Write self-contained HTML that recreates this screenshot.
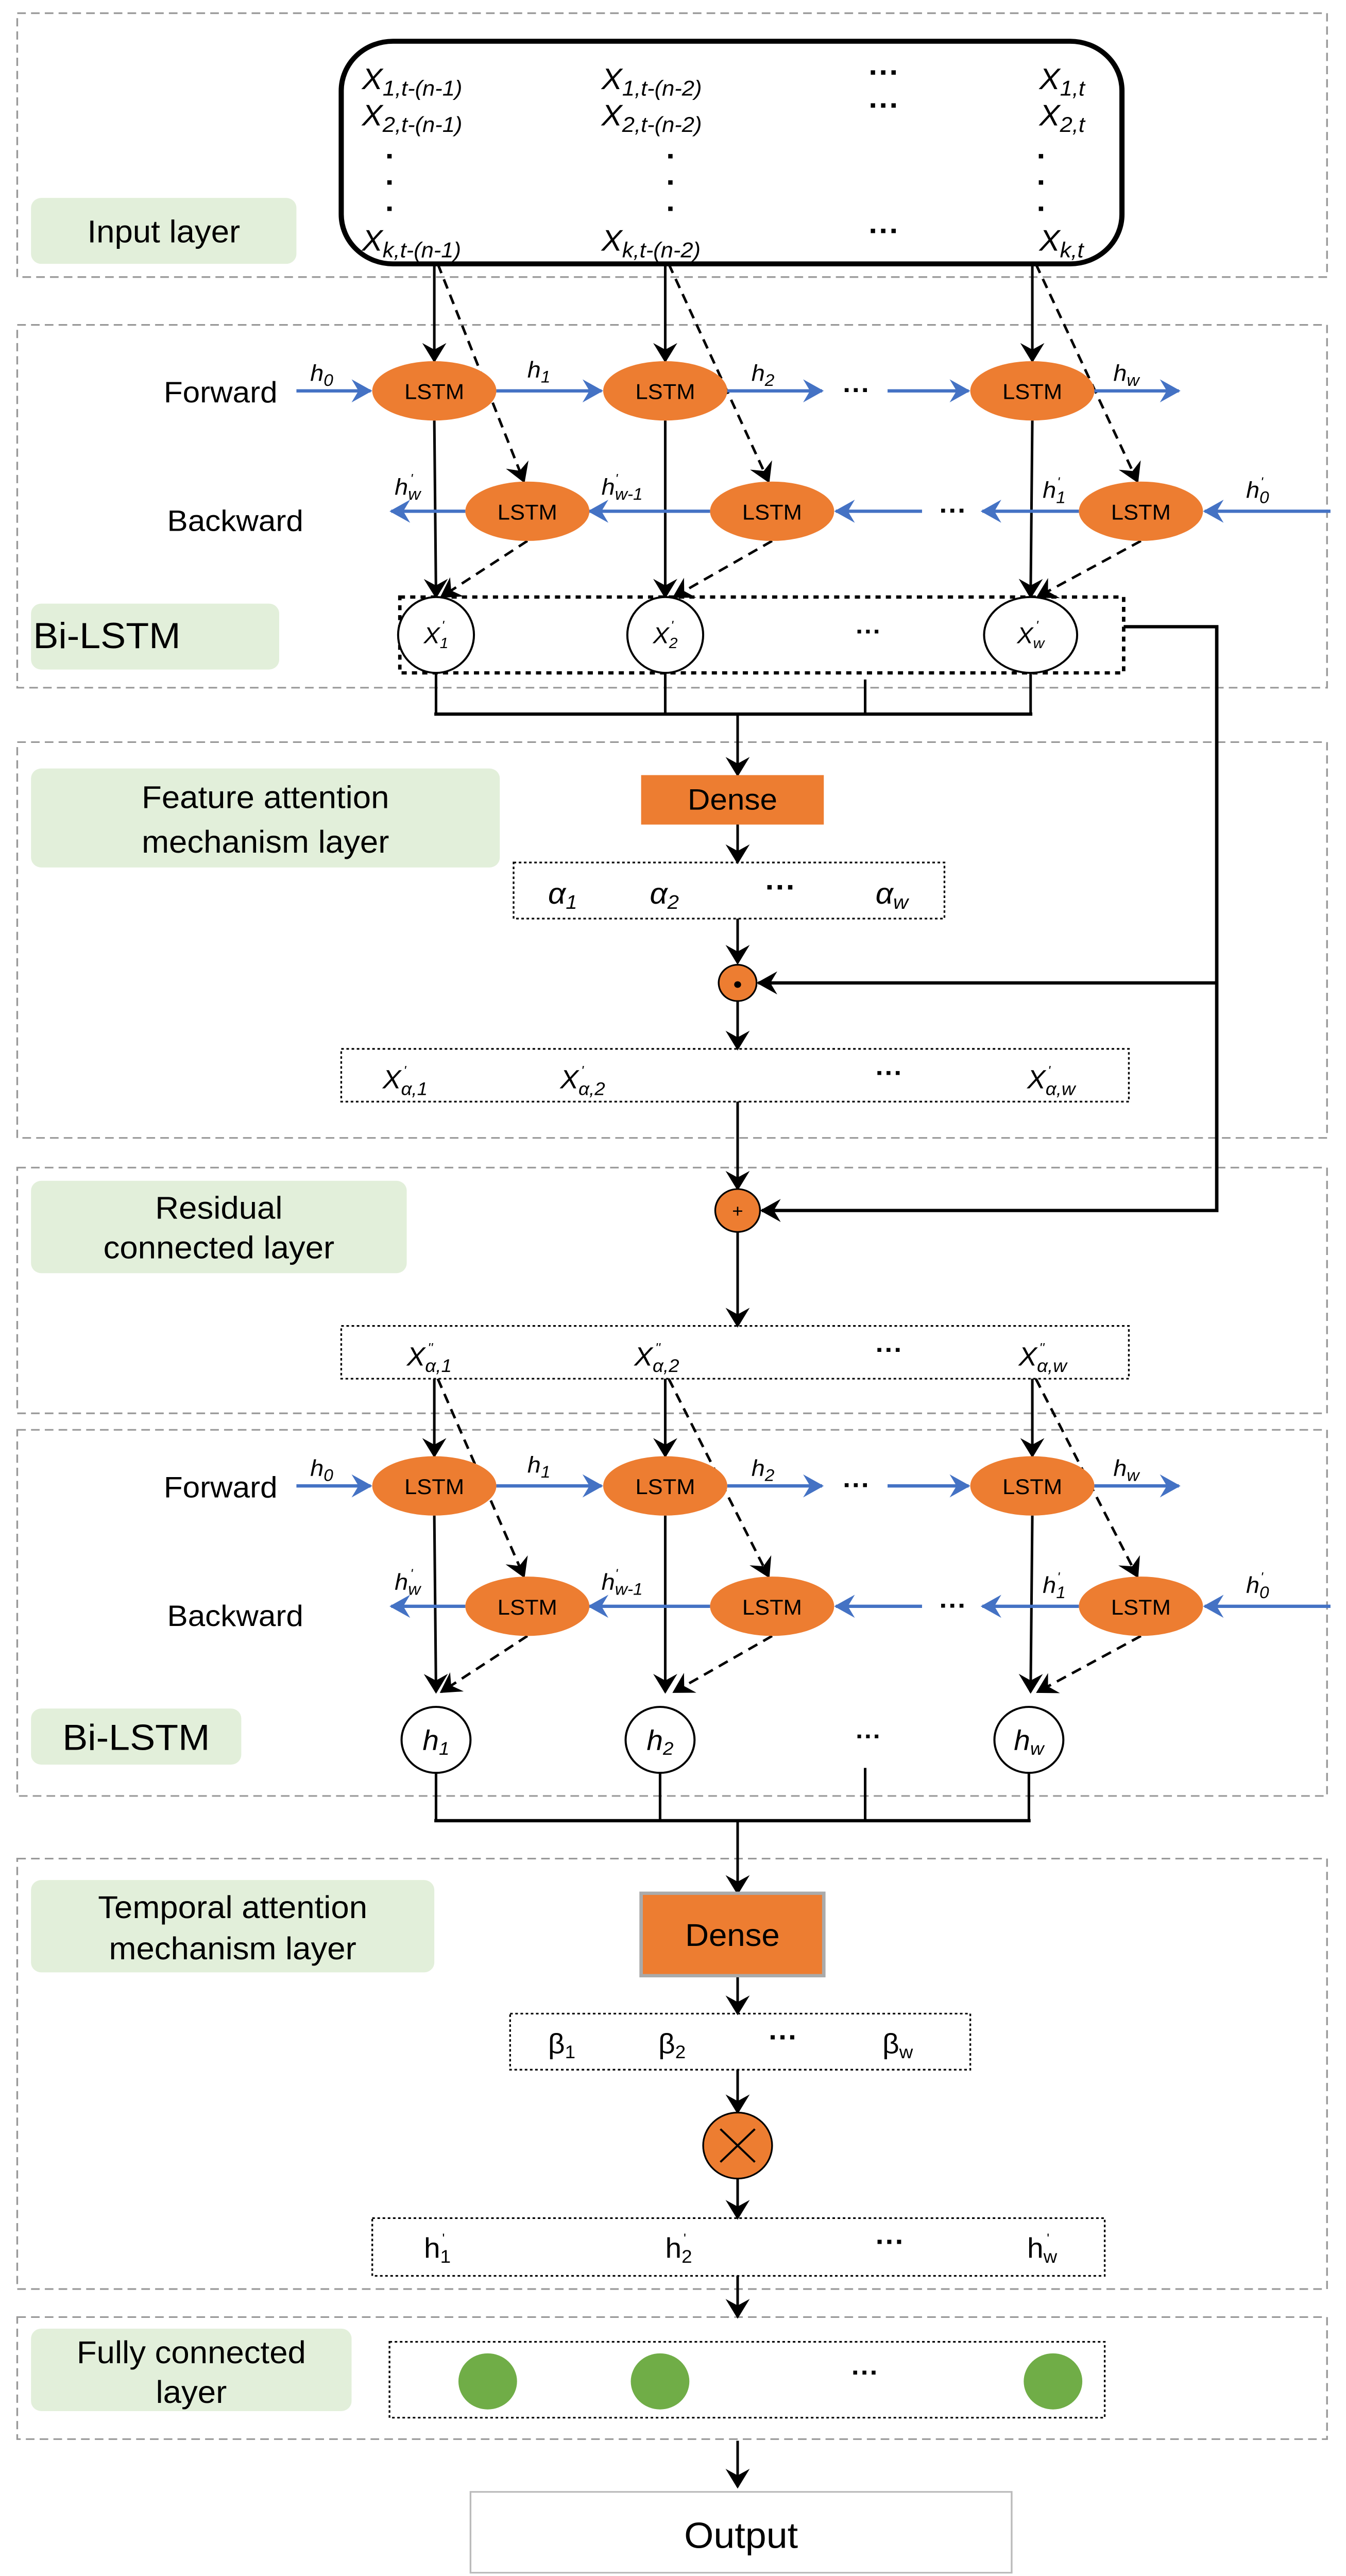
<!DOCTYPE html>
<html><head><meta charset="utf-8"><style>html,body{margin:0;padding:0;background:#fff;width:100vw;height:100vh;overflow:hidden}svg{display:block;width:100vw;height:100vh}</style></head>
<body>
<svg viewBox="0 0 781 1562" preserveAspectRatio="none" xmlns="http://www.w3.org/2000/svg" font-family="'Liberation Sans Narrow','Liberation Sans',sans-serif">
<defs>
<marker id="ak" markerUnits="userSpaceOnUse" markerWidth="12" markerHeight="14" refX="11" refY="7" orient="auto"><path d="M0,0 L12,7 L0,14 L4,7 z" fill="#000"/></marker>
<marker id="ab" markerUnits="userSpaceOnUse" markerWidth="12" markerHeight="14" refX="11" refY="7" orient="auto"><path d="M0,0 L12,7 L0,14 L4,7 z" fill="#4472c4"/></marker>
</defs>
<rect width="781" height="1562" fill="#fff"/>
<g fill="none" stroke="#999" stroke-dasharray="5,3" stroke-width="1">
<rect x="10" y="8" width="760" height="160"/>
<rect x="10" y="197" width="760" height="220"/>
<rect x="10" y="450" width="760" height="240"/>
<rect x="10" y="708" width="760" height="149"/>
<rect x="10" y="867" width="760" height="222"/>
<rect x="10" y="1127" width="760" height="261"/>
<rect x="10" y="1405" width="760" height="74"/>
</g>
<g fill="#e2efda">
<rect x="18" y="120" width="154" height="40" rx="6"/>
<rect x="18" y="366" width="144" height="40" rx="6"/>
<rect x="18" y="466" width="272" height="60" rx="6"/>
<rect x="18" y="716" width="218" height="56" rx="6"/>
<rect x="18" y="1036" width="122" height="34" rx="6"/>
<rect x="18" y="1140" width="234" height="56" rx="6"/>
<rect x="18" y="1412" width="186" height="50" rx="6"/>
</g>
<g font-size="19" text-anchor="middle" fill="#000">
<text x="95" y="147">Input layer</text>
<text x="62" y="393" font-size="22">Bi-LSTM</text>
<text x="154" y="490">Feature attention</text>
<text x="154" y="517">mechanism layer</text>
<text x="127" y="739">Residual</text>
<text x="127" y="763">connected layer</text>
<text x="79" y="1061" font-size="22">Bi-LSTM</text>
<text x="135" y="1163">Temporal attention</text>
<text x="135" y="1188">mechanism layer</text>
<text x="111" y="1433">Fully connected</text>
<text x="111" y="1457">layer</text>
</g>
<rect x="198" y="25" width="453" height="135" rx="30" fill="none" stroke="#000" stroke-width="3"/>
<g font-size="18" fill="#000" font-style="italic">
<text x="210" y="54">X<tspan font-size="13" dy="4">1,t-(n-1)</tspan></text>
<text x="210" y="76">X<tspan font-size="13" dy="4">2,t-(n-1)</tspan></text>
<text x="210" y="152">X<tspan font-size="13" dy="4">k,t-(n-1)</tspan></text>
<text x="349" y="54">X<tspan font-size="13" dy="4">1,t-(n-2)</tspan></text>
<text x="349" y="76">X<tspan font-size="13" dy="4">2,t-(n-2)</tspan></text>
<text x="349" y="152">X<tspan font-size="13" dy="4">k,t-(n-2)</tspan></text>
<text x="603" y="54">X<tspan font-size="13" dy="4">1,t</tspan></text>
<text x="603" y="76">X<tspan font-size="13" dy="4">2,t</tspan></text>
<text x="603" y="152">X<tspan font-size="13" dy="4">k,t</tspan></text>
</g>
<g font-size="18" font-weight="bold" fill="#000" text-anchor="middle">
<text x="513" y="50">···</text><text x="513" y="70">···</text><text x="513" y="146">···</text>
<text x="226" y="96">.</text><text x="226" y="112">.</text><text x="226" y="128">.</text>
<text x="389" y="96">.</text><text x="389" y="112">.</text><text x="389" y="128">.</text>
<text x="604" y="96">.</text><text x="604" y="112">.</text><text x="604" y="128">.</text>
</g>

<g stroke="#000" stroke-width="1.5" fill="none">
<line x1="252" y1="160" x2="252" y2="219" marker-end="url(#ak)"/>
<line x1="386" y1="160" x2="386" y2="219" marker-end="url(#ak)"/>
<line x1="599" y1="160" x2="599" y2="219" marker-end="url(#ak)"/>
<line x1="254" y1="160" x2="304" y2="292" stroke-dasharray="6,4" marker-end="url(#ak)"/>
<line x1="388" y1="160" x2="446" y2="292" stroke-dasharray="6,4" marker-end="url(#ak)"/>
<line x1="601" y1="160" x2="660" y2="292" stroke-dasharray="6,4" marker-end="url(#ak)"/>
</g>
<g stroke="#000" stroke-width="1.5" fill="none">
<line x1="252" y1="836" x2="252" y2="883" marker-end="url(#ak)"/>
<line x1="386" y1="836" x2="386" y2="883" marker-end="url(#ak)"/>
<line x1="599" y1="836" x2="599" y2="883" marker-end="url(#ak)"/>
<line x1="254" y1="836" x2="304" y2="956" stroke-dasharray="6,4" marker-end="url(#ak)"/>
<line x1="388" y1="836" x2="446" y2="956" stroke-dasharray="6,4" marker-end="url(#ak)"/>
<line x1="601" y1="836" x2="660" y2="956" stroke-dasharray="6,4" marker-end="url(#ak)"/>
</g>

<g id="bl1">
<g stroke="#000" stroke-width="1.5" fill="none">
<line x1="252" y1="255" x2="253" y2="362" marker-end="url(#ak)"/>
<line x1="386" y1="255" x2="386" y2="362" marker-end="url(#ak)"/>
<line x1="599" y1="255" x2="598" y2="362" marker-end="url(#ak)"/>
<line x1="306" y1="328" x2="256" y2="362" stroke-dasharray="6,4" marker-end="url(#ak)"/>
<line x1="448" y1="328" x2="391" y2="362" stroke-dasharray="6,4" marker-end="url(#ak)"/>
<line x1="662" y1="328" x2="602" y2="362" stroke-dasharray="6,4" marker-end="url(#ak)"/>
</g>
<g stroke="#4472c4" stroke-width="2" fill="none">
<line x1="172" y1="237" x2="215" y2="237" marker-end="url(#ab)"/>
<line x1="288" y1="237" x2="349" y2="237" marker-end="url(#ab)"/>
<line x1="422" y1="237" x2="477" y2="237" marker-end="url(#ab)"/>
<line x1="515" y1="237" x2="562" y2="237" marker-end="url(#ab)"/>
<line x1="635" y1="237" x2="684" y2="237" marker-end="url(#ab)"/>
<line x1="772" y1="310" x2="699" y2="310" marker-end="url(#ab)"/>
<line x1="626" y1="310" x2="570" y2="310" marker-end="url(#ab)"/>
<line x1="535" y1="310" x2="485" y2="310" marker-end="url(#ab)"/>
<line x1="412" y1="310" x2="342" y2="310" marker-end="url(#ab)"/>
<line x1="270" y1="310" x2="227" y2="310" marker-end="url(#ab)"/>
</g>
<g fill="#ed7d31">
<ellipse cx="252" cy="237" rx="36" ry="18"/><ellipse cx="386" cy="237" rx="36" ry="18"/><ellipse cx="599" cy="237" rx="36" ry="18"/>
<ellipse cx="306" cy="310" rx="36" ry="18"/><ellipse cx="448" cy="310" rx="36" ry="18"/><ellipse cx="662" cy="310" rx="36" ry="18"/>
</g>
<g font-size="13" text-anchor="middle" fill="#000">
<text x="252" y="242">LSTM</text><text x="386" y="242">LSTM</text><text x="599" y="242">LSTM</text>
<text x="306" y="315">LSTM</text><text x="448" y="315">LSTM</text><text x="662" y="315">LSTM</text>
<text x="497" y="242" font-size="16" font-weight="bold">···</text>
<text x="553" y="315" font-size="16" font-weight="bold">···</text>
</g>
<g font-size="14" font-style="italic" fill="#000">
<text x="95" y="244" font-size="18" font-style="normal">Forward</text>
<text x="97" y="322" font-size="18" font-style="normal">Backward</text>
<text x="180" y="231">h<tspan font-size="10" dy="3">0</tspan></text>
<text x="306" y="229">h<tspan font-size="10" dy="3">1</tspan></text>
<text x="436" y="231">h<tspan font-size="10" dy="3">2</tspan></text>
<text x="646" y="231">h<tspan font-size="10" dy="3">w</tspan></text>
<text x="229" y="300">h<tspan font-size="10" dy="3">w</tspan><tspan font-size="8" dy="-10" dx="-6">'</tspan></text>
<text x="349" y="300">h<tspan font-size="10" dy="3">w-1</tspan><tspan font-size="8" dy="-10" dx="-16">'</tspan></text>
<text x="605" y="302">h<tspan font-size="10" dy="3">1</tspan><tspan font-size="8" dy="-10" dx="-5">'</tspan></text>
<text x="723" y="302">h<tspan font-size="10" dy="3">0</tspan><tspan font-size="8" dy="-10" dx="-5">'</tspan></text>
</g>
</g>
<use href="#bl1" transform="translate(0,664)"/>

<rect x="232" y="362" width="420" height="46" fill="none" stroke="#000" stroke-width="2" stroke-dasharray="3,3"/>
<g fill="#fff" stroke="#000" stroke-width="1.2">
<ellipse cx="253" cy="385" rx="22" ry="23"/><ellipse cx="386" cy="385" rx="22" ry="23"/><ellipse cx="598" cy="385" rx="27" ry="23"/>
</g>
<g font-size="14" font-style="italic" fill="#000" text-anchor="middle">
<text x="253" y="390">X<tspan font-size="9" dy="3">1</tspan><tspan font-size="8" dy="-11" dx="-4">'</tspan></text>
<text x="386" y="390">X<tspan font-size="9" dy="3">2</tspan><tspan font-size="8" dy="-11" dx="-4">'</tspan></text>
<text x="598" y="390">X<tspan font-size="9" dy="3">w</tspan><tspan font-size="8" dy="-11" dx="-5">'</tspan></text>
<text x="504" y="388" font-style="normal" font-weight="bold" font-size="15">···</text>
</g>
<g stroke="#000" stroke-width="1.5" fill="none">
<line x1="253" y1="408" x2="253" y2="433"/><line x1="386" y1="408" x2="386" y2="433"/><line x1="502" y1="412" x2="502" y2="433"/><line x1="598" y1="408" x2="598" y2="433"/>
<line x1="252" y1="433" x2="599" y2="433" stroke-width="2"/>
<line x1="428" y1="433" x2="428" y2="470" marker-end="url(#ak)"/>
<polyline points="652,380 706,380 706,734 442,734" stroke-width="2" marker-end="url(#ak)"/>
<line x1="706" y1="596" x2="440" y2="596" stroke-width="2" marker-end="url(#ak)"/>
<line x1="428" y1="500" x2="428" y2="523" marker-end="url(#ak)"/>
<line x1="428" y1="557" x2="428" y2="584" marker-end="url(#ak)"/>
<line x1="428" y1="607" x2="428" y2="636" marker-end="url(#ak)"/>
<line x1="428" y1="668" x2="428" y2="721" marker-end="url(#ak)"/>
<line x1="428" y1="747" x2="428" y2="804" marker-end="url(#ak)"/>
</g>
<rect x="372" y="470" width="106" height="30" fill="#ed7d31"/>
<text x="425" y="491" font-size="18" text-anchor="middle">Dense</text>
<rect x="298" y="523" width="250" height="34" fill="none" stroke="#000" stroke-dasharray="1.5,1.5"/>
<g font-size="18" font-style="italic" fill="#000">
<text x="318" y="548">α<tspan font-size="12" dy="3">1</tspan></text>
<text x="377" y="548">α<tspan font-size="12" dy="3">2</tspan></text>
<text x="444" y="544" font-style="normal" font-weight="bold">···</text>
<text x="508" y="548">α<tspan font-size="12" dy="3">w</tspan></text>
</g>
<circle cx="428" cy="596" r="11" fill="#ed7d31" stroke="#000"/><circle cx="428" cy="597" r="2" fill="#000"/>
<rect x="198" y="636" width="457" height="32" fill="none" stroke="#000" stroke-dasharray="1.5,1.5"/>
<g font-size="16" font-style="italic" fill="#000">
<text x="222" y="660">X<tspan font-size="11" dy="4">α,1</tspan><tspan font-size="8" dy="-12" dx="-14">'</tspan></text>
<text x="325" y="660">X<tspan font-size="11" dy="4">α,2</tspan><tspan font-size="8" dy="-12" dx="-14">'</tspan></text>
<text x="508" y="656" font-style="normal" font-weight="bold">···</text>
<text x="596" y="660">X<tspan font-size="11" dy="4">α,w</tspan><tspan font-size="8" dy="-12" dx="-16">'</tspan></text>
</g>
<circle cx="428" cy="734" r="13" fill="#ed7d31" stroke="#000"/>
<text x="428" y="738" font-size="11" text-anchor="middle">+</text>
<rect x="198" y="804" width="457" height="32" fill="none" stroke="#000" stroke-dasharray="1.5,1.5"/>
<g font-size="16" font-style="italic" fill="#000">
<text x="236" y="828">X<tspan font-size="11" dy="4">α,1</tspan><tspan font-size="8" dy="-12" dx="-14">''</tspan></text>
<text x="368" y="828">X<tspan font-size="11" dy="4">α,2</tspan><tspan font-size="8" dy="-12" dx="-14">''</tspan></text>
<text x="508" y="824" font-style="normal" font-weight="bold">···</text>
<text x="591" y="828">X<tspan font-size="11" dy="4">α,w</tspan><tspan font-size="8" dy="-12" dx="-16">''</tspan></text>
</g>

<g fill="#fff" stroke="#000" stroke-width="1.2">
<circle cx="253" cy="1055" r="20"/><circle cx="383" cy="1055" r="20"/><circle cx="597" cy="1055" r="20"/>
</g>
<g font-size="17" fill="#000" text-anchor="middle" font-style="italic">
<text x="253" y="1061">h<tspan font-size="11" dy="3">1</tspan></text>
<text x="383" y="1061">h<tspan font-size="11" dy="3">2</tspan></text>
<text x="597" y="1061">h<tspan font-size="11" dy="3">w</tspan></text>
<text x="504" y="1058" font-style="normal" font-weight="bold" font-size="15">···</text>
</g>
<g stroke="#000" stroke-width="1.5" fill="none">
<line x1="253" y1="1075" x2="253" y2="1104"/><line x1="383" y1="1075" x2="383" y2="1104"/><line x1="502" y1="1072" x2="502" y2="1104"/><line x1="597" y1="1075" x2="597" y2="1104"/>
<line x1="252" y1="1104" x2="598" y2="1104" stroke-width="2"/>
<line x1="428" y1="1104" x2="428" y2="1148" marker-end="url(#ak)"/>
<line x1="428" y1="1198" x2="428" y2="1221" marker-end="url(#ak)"/>
<line x1="428" y1="1255" x2="428" y2="1281" marker-end="url(#ak)"/>
<line x1="428" y1="1321" x2="428" y2="1345" marker-end="url(#ak)"/>
<line x1="428" y1="1380" x2="428" y2="1405" marker-end="url(#ak)"/>
<line x1="428" y1="1480" x2="428" y2="1508" marker-end="url(#ak)"/>
</g>
<rect x="372" y="1148" width="106" height="50" fill="#ed7d31" stroke="#aaa" stroke-width="2"/>
<text x="425" y="1180" font-size="19" text-anchor="middle">Dense</text>
<rect x="296" y="1221" width="267" height="34" fill="none" stroke="#000" stroke-dasharray="1.5,1.5"/>
<g font-size="17" fill="#000">
<text x="318" y="1245">β<tspan font-size="11" dy="3">1</tspan></text>
<text x="382" y="1245">β<tspan font-size="11" dy="3">2</tspan></text>
<text x="446" y="1241" font-weight="bold">···</text>
<text x="512" y="1245">β<tspan font-size="11" dy="3">w</tspan></text>
</g>
<circle cx="428" cy="1301" r="20" fill="#ed7d31" stroke="#000"/>
<path d="M418,1291 L438,1311 M438,1291 L418,1311" stroke="#000" stroke-width="1.2"/>
<rect x="216" y="1345" width="425" height="35" fill="none" stroke="#000" stroke-dasharray="1.5,1.5"/>
<g font-size="17" fill="#000">
<text x="246" y="1369">h<tspan font-size="11" dy="3">1</tspan><tspan font-size="8" dy="-12" dx="-5">'</tspan></text>
<text x="386" y="1369">h<tspan font-size="11" dy="3">2</tspan><tspan font-size="8" dy="-12" dx="-5">'</tspan></text>
<text x="508" y="1365" font-weight="bold">···</text>
<text x="596" y="1369">h<tspan font-size="11" dy="3">w</tspan><tspan font-size="8" dy="-12" dx="-6">'</tspan></text>
</g>
<rect x="226" y="1420" width="415" height="46" fill="none" stroke="#000" stroke-dasharray="1.5,1.5"/>
<g fill="#70ad47"><circle cx="283" cy="1444" r="17"/><circle cx="383" cy="1444" r="17"/><circle cx="611" cy="1444" r="17"/></g>
<text x="502" y="1444" font-size="16" font-weight="bold" text-anchor="middle">···</text>
<rect x="273" y="1511" width="314" height="49" fill="#fff" stroke="#bbb"/>
<text x="430" y="1545" font-size="22" text-anchor="middle">Output</text>
</svg>
</body></html>
